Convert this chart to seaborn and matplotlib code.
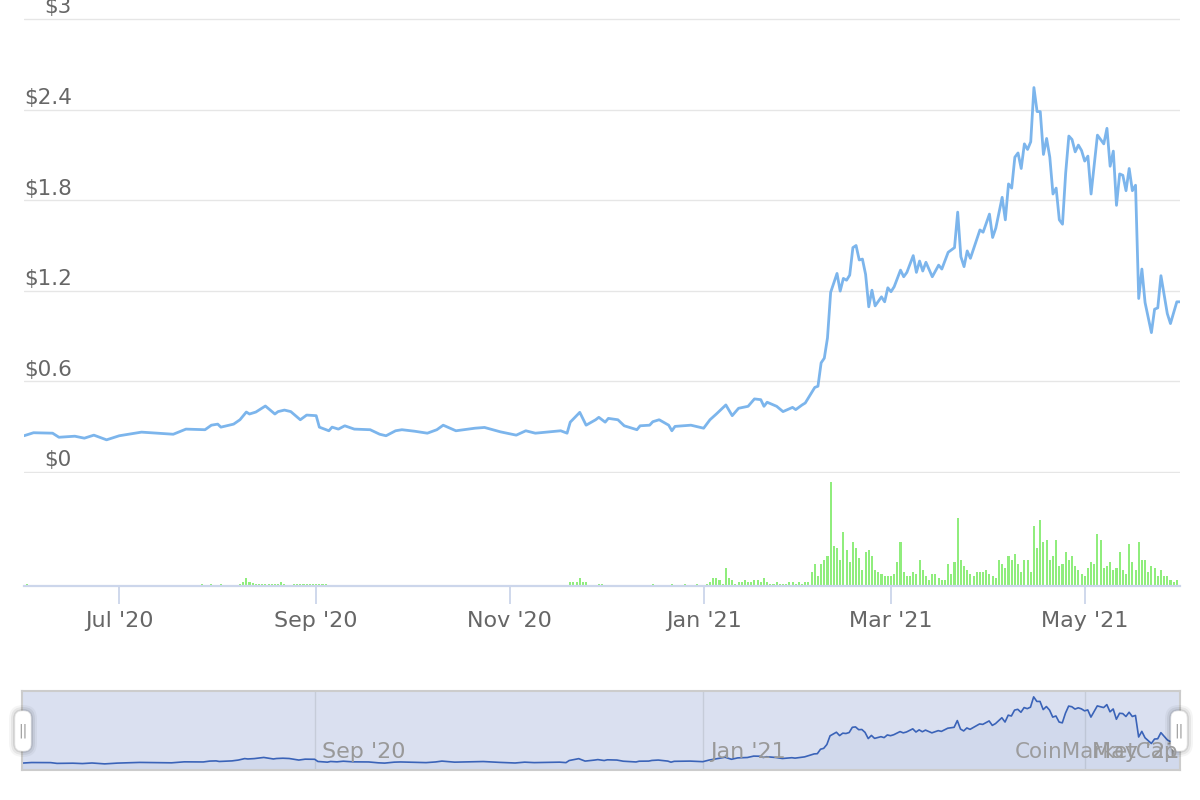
import numpy as np
import pandas as pd
import matplotlib
matplotlib.use("Agg")
import matplotlib.pyplot as plt
import matplotlib.dates as mdates
import matplotlib.transforms as mtransforms
from matplotlib.patches import FancyBboxPatch
import seaborn as sns

# ---------------- data ----------------
START = "2020-06-01"
END_DAY = 364

price_day = [0, 3, 9, 11, 16, 19, 22, 26, 30, 37, 47, 51, 57, 59, 61, 62, 66, 68, 70, 71,
             73, 76, 79, 80, 82, 84, 87, 89, 92, 93, 96, 97, 99, 101, 104, 109, 112, 114, 117, 119,
             123, 127, 130, 132, 136, 140, 142, 145, 150, 155, 158, 161, 169, 171, 172, 175, 177, 180, 181, 183,
             184, 187, 189, 193, 194, 197, 198, 200, 203, 204, 205, 210, 214, 216, 218, 221, 223, 225, 228, 230,
             232, 233, 234, 237, 239, 242, 243, 245, 246, 249, 250, 251, 252, 253, 254, 256, 257, 258, 259, 260,
             261, 262, 263, 264, 265, 266, 267, 268, 270, 271, 272, 273, 274, 276, 277, 278, 280, 281, 282, 283,
             284, 286, 288, 289, 291, 293, 294, 295, 296, 297, 298, 301, 302, 304, 305, 306, 308, 309, 310, 311,
             312, 313, 314, 315, 316, 317, 318, 319, 320, 321, 322, 323, 324, 325, 326, 327, 328, 329, 330, 331,
             332, 333, 334, 335, 336, 338, 340, 341, 342, 343, 344, 345, 346, 347, 348, 349, 350, 351, 352, 353,
             355, 356, 357, 358, 360, 361, 363, 364]
price_usd = [0.240, 0.260, 0.257, 0.230, 0.237, 0.224, 0.244, 0.213, 0.240, 0.264, 0.250, 0.284, 0.280, 0.310, 0.317, 0.297, 0.317, 0.346, 0.397, 0.384,
             0.397, 0.437, 0.384, 0.400, 0.410, 0.400, 0.346, 0.377, 0.373, 0.297, 0.273, 0.297, 0.284, 0.306, 0.284, 0.280, 0.250, 0.240, 0.273, 0.280,
             0.270, 0.257, 0.280, 0.310, 0.273, 0.284, 0.290, 0.295, 0.266, 0.244, 0.273, 0.257, 0.273, 0.257, 0.330, 0.395, 0.310, 0.346, 0.362, 0.330,
             0.355, 0.346, 0.306, 0.280, 0.306, 0.310, 0.333, 0.346, 0.310, 0.273, 0.302, 0.310, 0.290, 0.346, 0.384, 0.444, 0.373, 0.422, 0.435, 0.484,
             0.479, 0.435, 0.462, 0.435, 0.400, 0.428, 0.413, 0.444, 0.457, 0.560, 0.568, 0.723, 0.754, 0.888, 1.190, 1.315, 1.198, 1.282, 1.270, 1.304,
             1.486, 1.500, 1.404, 1.410, 1.309, 1.094, 1.204, 1.100, 1.160, 1.127, 1.220, 1.194, 1.227, 1.337, 1.293, 1.322, 1.433, 1.322, 1.397, 1.331,
             1.389, 1.293, 1.370, 1.344, 1.455, 1.486, 1.721, 1.426, 1.360, 1.464, 1.415, 1.603, 1.588, 1.708, 1.553, 1.615, 1.819, 1.670, 1.908, 1.880,
             2.085, 2.113, 2.010, 2.173, 2.136, 2.187, 2.546, 2.387, 2.387, 2.103, 2.209, 2.085, 1.841, 1.880, 1.670, 1.641, 1.980, 2.225, 2.202, 2.120,
             2.165, 2.129, 2.059, 2.092, 1.841, 2.231, 2.173, 2.276, 2.025, 2.125, 1.766, 1.974, 1.965, 1.863, 2.010, 1.863, 1.899, 1.149, 1.344, 1.122,
             0.923, 1.078, 1.087, 1.300, 1.049, 0.983, 1.127, 1.127]

# volume (relative units, no scale shown in the chart)
vol_sparse_day = [1, 56, 59, 62, 68, 69, 70, 71, 72, 73, 74, 75, 76, 77, 78, 79, 80, 81, 82,
                  85, 86, 87, 88, 89, 90, 91, 92, 93, 94, 95,
                  172, 173, 174, 175, 176, 177, 181, 182, 198, 204, 208, 212, 215]
vol_sparse = [2, 2, 2, 2, 2, 4, 8, 4, 3, 2, 2, 2, 2, 2, 2, 2, 2, 4, 2,
              2, 2, 2, 2, 2, 2, 2, 2, 2, 2, 2,
              4, 4, 4, 8, 4, 4, 2, 2, 2, 2, 2, 2, 2]
vol_dense_start = 216
vol_dense = [4, 8, 8, 6, 2, 18, 8, 6, 2, 4, 4, 6, 4, 4, 6, 6, 4, 8, 4, 2,
             2, 4, 2, 2, 2, 4, 4, 2, 4, 2, 4, 4, 14, 22, 10, 22, 26, 30, 104, 40,
             38, 26, 54, 36, 24, 44, 38, 28, 16, 34, 36, 30, 16, 14, 12, 10, 10, 10, 12, 24,
             44, 14, 10, 10, 14, 12, 26, 16, 10, 6, 12, 12, 8, 6,
             6, 22, 12, 24, 68, 26, 20, 16, 12, 10, 14, 14, 14, 16, 12, 10, 8, 26, 22, 18,
             30, 26, 32, 22, 14, 26, 26, 14, 60, 38, 66, 44, 46, 26, 30, 46, 20, 22, 34, 26,
             30, 20, 16, 12, 10, 18, 24, 22, 52, 46, 18, 20, 24, 16, 18, 34, 16, 12, 42, 24,
             16, 44, 26, 26, 14, 20, 18, 10, 16, 10, 10, 6, 4, 6]

y_ticks = [0, 0.6, 1.2, 1.8, 2.4, 3.0]
y_tick_labels = ["$0", "$0.6", "$1.2", "$1.8", "$2.4", "$3"]
x_tick_dates = ["2020-07-01", "2020-09-01", "2020-11-01", "2021-01-01", "2021-03-01", "2021-05-01"]
nav_tick_dates = ["2020-09-01", "2021-01-01", "2021-05-01"]
watermark = "CoinMarketCap"

# ---------------- build frames ----------------
start = pd.Timestamp(START)
price_df = pd.DataFrame({"date": start + pd.to_timedelta(price_day, unit="D"),
                         "price": price_usd})
vol_days = list(vol_sparse_day) + list(range(vol_dense_start, vol_dense_start + len(vol_dense)))
vol_vals = list(vol_sparse) + list(vol_dense)
vol_df = pd.DataFrame({"date": start + pd.to_timedelta(vol_days, unit="D"), "volume": vol_vals})
x0, x1 = start, start + pd.Timedelta(days=END_DAY)

# ---------------- style ----------------
sns.set_theme(style="white")
plt.rcParams["font.family"] = ["DejaVu Sans"]

W, H = 1200, 800
fig = plt.figure(figsize=(12, 8), dpi=100)
fig.patch.set_facecolor("white")


def rect(l, t, r, b):
    return [l / W, 1 - b / H, (r - l) / W, (b - t) / H]


LABEL = "#666666"
GRID = "#e6e6e6"

# ---------------- price panel ----------------
pad = 0.008
ax = fig.add_axes(rect(24, 19 - 1.2, 1180, 472 + 1.2))
sns.lineplot(data=price_df, x="date", y="price", ax=ax, color="#7cb5ec", linewidth=2.0)
ax.set_xlim(x0, x1)
ax.set_ylim(-pad, 3.0 + pad)
ax.set_yticks(y_ticks)
ax.set_yticklabels([])
ax.tick_params(axis="y", length=0)
ax.set_xticks([])
ax.grid(axis="y", color=GRID, linewidth=1.0)
ax.grid(axis="x", visible=False)
for s in ax.spines.values():
    s.set_visible(False)
ax.set_xlabel("")
ax.set_ylabel("")
for t, lab in zip(y_ticks, y_tick_labels):
    ax.annotate(lab, xy=(48 / 1156, t), xycoords=ax.get_yaxis_transform(),
                xytext=(0, 4), textcoords="offset points", ha="right", va="baseline",
                fontsize=15.5, color=LABEL, annotation_clip=False)

# ---------------- volume panel ----------------
axv = fig.add_axes(rect(24, 473, 1180, 586))
axv.bar(vol_df["date"], vol_df["volume"], width=0.65, color="#90ed7d", linewidth=0)
axv.set_xlim(x0, x1)
axv.set_ylim(0, 113)
axv.set_yticks([])
axv.set_xticks(pd.to_datetime(x_tick_dates))
axv.xaxis.set_major_formatter(mdates.DateFormatter("%b '%y"))
axv.tick_params(axis="x", direction="out", length=13, width=1.3, color="#ccd6eb",
                labelcolor=LABEL, labelsize=16, pad=5, bottom=True)
for k, s in axv.spines.items():
    s.set_visible(k == "bottom")
axv.spines["bottom"].set_color("#ccd6eb")
axv.spines["bottom"].set_linewidth(1.6)
axv.grid(False)

# ---------------- navigator ----------------
axn = fig.add_axes(rect(22, 691, 1180, 770))
axn.set_facecolor("#dae0f0")
axn.fill_between(price_df["date"], price_df["price"], 0, color="#335cad", alpha=0.05, linewidth=0)
sns.lineplot(data=price_df, x="date", y="price", ax=axn, color="#3a63b8", linewidth=1.2)
axn.set_xlim(x0, x1)
axn.set_ylim(0, 2.75)
axn.set_yticks([])
axn.set_xticks(pd.to_datetime(nav_tick_dates))
axn.tick_params(axis="x", length=0, labelbottom=False)
axn.grid(axis="x", color="#c6ccd9", linewidth=1.0)
axn.grid(axis="y", visible=False)
axn.set_xlabel("")
axn.set_ylabel("")
for s in axn.spines.values():
    s.set_color("#cccccc")
    s.set_linewidth(1.5)
for d in pd.to_datetime(nav_tick_dates):
    axn.annotate(d.strftime("%b '%y"), xy=(mdates.date2num(d), 0), xycoords=axn.get_xaxis_transform(),
                 xytext=(5, 13), textcoords="offset points", ha="left", va="center",
                 fontsize=16, color="#999999")

# navigator handles
ident = mtransforms.IdentityTransform()
for cx in (23, 1179):
    cy = H - 731
    for grow, a in ((6, 0.04), (4, 0.06), (2, 0.09)):
        sh = FancyBboxPatch((cx - 8 - grow, cy - 20 - grow), 16 + 2 * grow, 40 + 2 * grow,
                            boxstyle="round,pad=0,rounding_size=%d" % (8 + grow),
                            transform=ident, facecolor="#000000", alpha=a, edgecolor="none")
        fig.add_artist(sh)
    hb = FancyBboxPatch((cx - 8, cy - 20), 16, 40, boxstyle="round,pad=0,rounding_size=7",
                        transform=ident, facecolor="white", edgecolor="#eeeeee", linewidth=0.5)
    fig.add_artist(hb)
    fig.text(cx / W, cy / H, "||", ha="center", va="center", fontsize=10, color="#999999")

# watermark
fig.text(1178 / W, 1 - 752 / H, watermark, ha="right", va="center", fontsize=15.5,
         color="#999999", alpha=0.95)

fig.savefig("out.png", dpi=100, facecolor="white")
